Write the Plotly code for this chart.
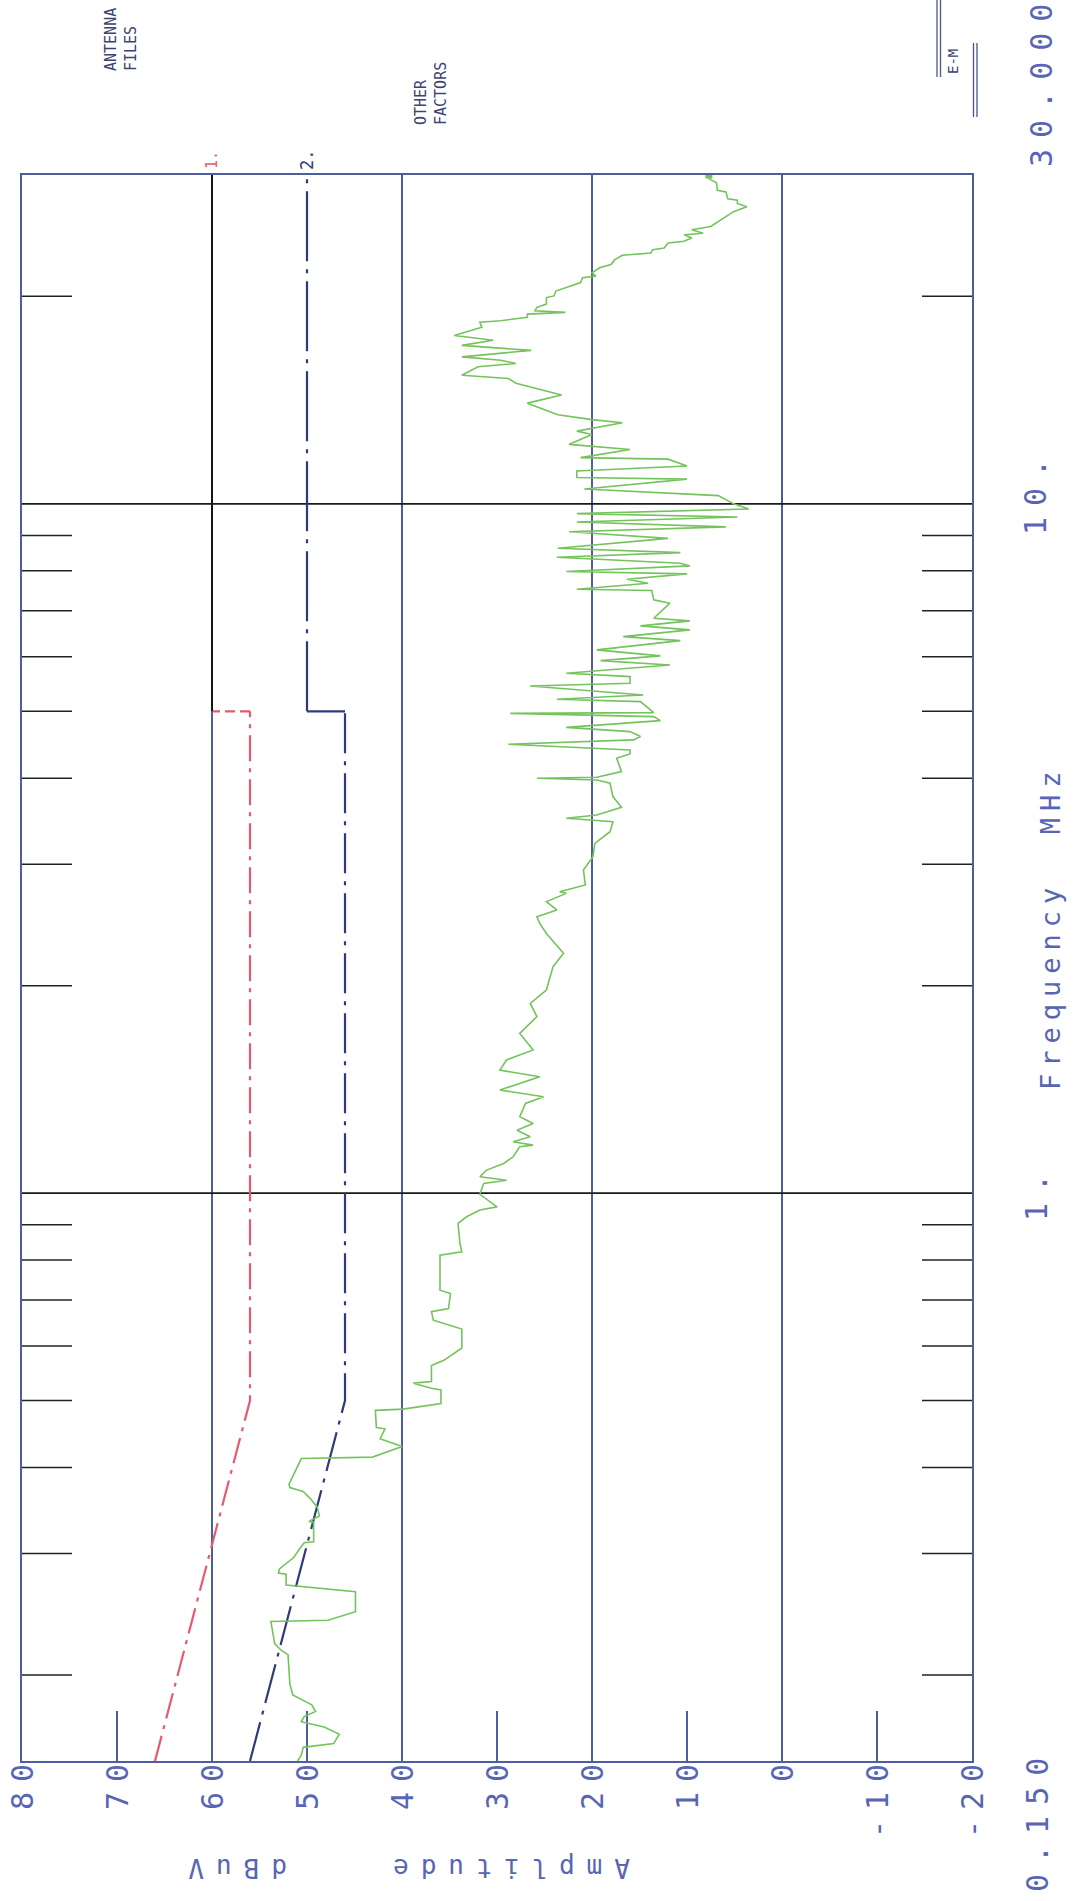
import numpy as np
import plotly.graph_objects as go

# ---------------------------------------------------------------- data ----
# Measured conducted-emission scan: frequency (MHz) and level (dBuV)
freq_mhz = [
    0.150, 0.153, 0.157, 0.159, 0.164, 0.168, 0.171, 0.174, 0.177, 0.181,
    0.187, 0.194, 0.214, 0.217, 0.222, 0.239, 0.240, 0.247, 0.264, 0.270,
    0.280, 0.281, 0.285, 0.296, 0.303, 0.311, 0.312, 0.333, 0.334, 0.340,
    0.350, 0.361, 0.369, 0.374, 0.378, 0.412, 0.414, 0.429, 0.440, 0.455,
    0.457, 0.484, 0.486, 0.495, 0.518, 0.521, 0.530, 0.533, 0.562, 0.572,
    0.596, 0.635, 0.654, 0.673, 0.680, 0.715, 0.723, 0.813, 0.822, 0.845,
    0.904, 0.924, 0.945, 0.955, 0.996, 1.033, 1.044, 1.056, 1.080, 1.104,
    1.129, 1.168, 1.174, 1.187, 1.207, 1.234, 1.262, 1.291, 1.349, 1.380,
    1.411, 1.443, 1.475, 1.508, 1.560, 1.613, 1.705, 1.803, 1.885, 1.971,
    2.131, 2.228, 2.381, 2.462, 2.518, 2.575, 2.648, 2.722, 2.737, 2.799,
    2.943, 3.077, 3.217, 3.345, 3.459, 3.498, 3.537, 3.629, 3.761, 3.932,
    3.976, 3.998, 4.011, 4.088, 4.274, 4.336, 4.395, 4.479, 4.545, 4.596,
    4.673, 4.740, 4.847, 4.912, 4.967, 4.978, 5.165, 5.205, 5.281, 5.443,
    5.492, 5.615, 5.678, 5.838, 5.924, 6.017, 6.139, 6.333, 6.418, 6.564,
    6.652, 6.764, 6.823, 7.176, 7.257, 7.487, 7.520, 7.672, 7.775, 7.915,
    7.976, 8.128, 8.201, 8.367, 8.497, 8.620, 8.910, 9.110, 9.260, 9.410,
    9.570, 9.680, 9.830, 10.00, 10.28, 10.51, 10.86, 10.92, 11.16, 11.35,
    11.61, 11.67, 11.99, 12.20, 12.61, 12.75, 13.11, 13.25, 13.47, 14.00,
    14.39, 14.96, 15.20, 15.37, 15.81, 15.98, 16.16, 16.34, 16.70, 16.98,
    17.27, 17.55, 18.04, 18.34, 18.44, 18.65, 18.85, 18.96, 19.06, 19.28,
    19.49, 19.92, 20.03, 20.36, 20.59, 20.94, 21.28, 21.40, 21.64, 22.00,
    22.24, 22.61, 22.94, 22.99, 23.12, 23.38, 23.51, 23.90, 24.04, 24.30,
    24.57, 24.70, 24.98, 25.26, 25.68, 26.11, 26.54, 26.98, 27.28, 27.58,
    27.70, 28.35, 28.50, 29.24, 29.64, 30.00,
]
level_dbuv = [
    51.0, 50.6, 50.4, 47.2, 46.6, 48.2, 50.6, 50.3, 49.1, 49.5,
    51.5, 51.8, 52.0, 52.7, 53.4, 53.8, 47.8, 44.9, 44.9, 52.2,
    52.2, 53.0, 52.9, 51.4, 50.9, 50.3, 49.3, 49.3, 49.8, 48.7,
    48.9, 49.7, 50.4, 51.8, 51.9, 50.6, 43.1, 40.0, 42.3, 41.8,
    42.7, 42.8, 39.9, 35.9, 35.9, 36.9, 38.8, 36.9, 36.9, 35.6,
    33.7, 33.7, 36.7, 36.9, 35.1, 34.9, 36.0, 36.0, 33.7, 33.9,
    34.1, 33.2, 31.8, 30.0, 31.8, 31.4, 29.0, 31.8, 31.1, 29.3,
    28.3, 27.6, 26.2, 28.3, 26.5, 27.9, 26.2, 27.6, 27.0, 25.1,
    29.7, 27.6, 25.5, 29.7, 29.0, 26.2, 27.6, 25.8, 26.5, 24.8,
    24.1, 23.0, 24.8, 25.5, 25.8, 23.7, 24.8, 22.7, 23.4, 20.7,
    20.9, 19.9, 19.7, 18.1, 17.8, 22.7, 19.5, 16.9, 17.8, 18.1,
    19.5, 25.8, 19.5, 16.9, 17.4, 16.0, 16.0, 28.8, 15.6, 14.9,
    16.0, 22.7, 12.8, 13.5, 28.6, 13.5, 14.9, 23.7, 14.6, 26.5,
    16.0, 16.0, 22.7, 11.8, 19.1, 12.8, 19.5, 10.7, 16.7, 9.7,
    14.9, 9.7, 13.5, 11.8, 13.5, 13.7, 21.6, 14.1, 16.3, 10.0,
    22.7, 9.7, 10.7, 23.7, 10.7, 23.6, 12.0, 22.4, 5.9, 21.6,
    4.7, 21.6, 3.5, 5.1, 6.7, 20.8, 10.0, 21.6, 21.6, 10.0,
    12.0, 21.2, 16.0, 22.4, 20.0, 21.6, 16.8, 20.0, 23.6, 26.8,
    23.2, 28.0, 28.8, 33.7, 32.0, 28.0, 29.6, 33.7, 26.4, 33.7,
    30.4, 34.5, 31.6, 31.8, 29.6, 26.8, 26.8, 22.8, 26.0, 25.8,
    24.8, 24.8, 24.0, 23.8, 22.8, 21.2, 21.0, 19.6, 20.0, 19.2,
    18.0, 17.6, 16.8, 15.6, 13.8, 13.6, 12.4, 12.0, 10.3, 9.5,
    10.3, 8.3, 9.5, 7.5, 6.7, 5.9, 5.1, 3.7, 4.7, 4.7,
    5.7, 5.9, 6.8, 6.9, 7.7, 7.7,
]

# Limit line 1 (quasi-peak) and limit line 2 (average)
limit1_freq = [0.15, 0.5, 5.0]
limit1_level = [66.0, 56.0, 56.0]
limit1_step = [56.0, 60.0]
limit1_high_freq = [5.0, 30.0]
limit1_high_level = [60.0, 60.0]

limit2_freq = [0.15, 0.5, 5.0]
limit2_level = [56.0, 46.0, 46.0]
limit2_step = [46.0, 50.0]
limit2_high_freq = [5.0, 30.0]
limit2_high_level = [50.0, 50.0]

# Axes
amp_range = [80, -20]
freq_range = [0.15, 30.0]
amp_grid = [60, 40, 20, 0]
amp_minor = [70, 50, 30, 10, -10]
amp_tick_vals = [80, 70, 60, 50, 40, 30, 20, 10, 0, -10, -20]
amp_tick_text = ["80", "70", "60", "50", "40", "30", "20", "10", "0", "-10", "-20"]
freq_grid = [1.0, 10.0]
freq_minor = [0.2, 0.3, 0.4, 0.5, 0.6, 0.7, 0.8, 0.9,
              2, 3, 4, 5, 6, 7, 8, 9, 20]

# ------------------------------------------------------------- styling ----
BLUE = "#4e5ca2"
NAVY = "#2f3a78"
RED = "#e55a70"
GREEN = "#74c35c"
TXT = "#5865b4"
MONO = "DejaVu Sans Mono"

# plot frame in page pixels
W, H = 1078, 1901
L, R, T, B = 22, 972, 175, 1761


def px(xpix):
    return (xpix - L) / (R - L)


def py(ypix):
    return (B - ypix) / (B - T)


def spaced(s, gap):
    # widen the pitch between characters without a trailing gap
    if len(s) < 2:
        return s
    return f'<span style="letter-spacing:{gap}px">{s[:-1]}</span>{s[-1]}'


fig = go.Figure()

# vertical amplitude grid
gx, gy = [], []
for a in amp_grid:
    gx += [a, a, None]
    gy += [freq_range[0], freq_range[1], None]
fig.add_trace(go.Scatter(x=gx, y=gy, mode="lines",
                         line=dict(color=BLUE, width=2), hoverinfo="skip"))

# horizontal decade lines
hx, hy = [], []
for f in freq_grid:
    hx += [amp_range[0], amp_range[1], None]
    hy += [f, f, None]
fig.add_trace(go.Scatter(x=hx, y=hy, mode="lines",
                         line=dict(color="#1a1a1a", width=1.6), hoverinfo="skip"))

# minor frequency ticks on both edges (about 50 px long)
tick_db = 50 / ((R - L) / 100.0)
tx, ty = [], []
for f in freq_minor:
    tx += [amp_range[0], amp_range[0] - tick_db, None,
           amp_range[1] + tick_db, amp_range[1], None]
    ty += [f, f, None, f, f, None]
fig.add_trace(go.Scatter(x=tx, y=ty, mode="lines",
                         line=dict(color="#222222", width=1.5), hoverinfo="skip"))

# minor amplitude ticks rising from the bottom edge
dec_per_px = np.log10(freq_range[1] / freq_range[0]) / (B - T)
tick_top = freq_range[0] * 10 ** (50 * dec_per_px)
ax_, ay_ = [], []
for a in amp_minor:
    ax_ += [a, a, None]
    ay_ += [freq_range[0], tick_top, None]
fig.add_trace(go.Scatter(x=ax_, y=ay_, mode="lines",
                         line=dict(color=BLUE, width=2), hoverinfo="skip"))

# limit line 1
fig.add_trace(go.Scatter(x=limit1_level, y=limit1_freq, mode="lines",
                         line=dict(color=RED, width=2.2, dash="26px,7px,4px,7px"),
                         hoverinfo="skip"))
fig.add_trace(go.Scatter(x=limit1_step, y=[limit1_freq[-1]] * 2, mode="lines",
                         line=dict(color=RED, width=2.2, dash="10px,5px"),
                         hoverinfo="skip"))
fig.add_trace(go.Scatter(x=limit1_high_level, y=limit1_high_freq, mode="lines",
                         line=dict(color="#151515", width=2), hoverinfo="skip"))

# limit line 2
fig.add_trace(go.Scatter(x=limit2_level, y=limit2_freq, mode="lines",
                         line=dict(color=NAVY, width=2.2, dash="40px,8px,4px,8px"),
                         hoverinfo="skip"))
fig.add_trace(go.Scatter(x=limit2_step, y=[limit2_freq[-1]] * 2, mode="lines",
                         line=dict(color=NAVY, width=2.2),
                         hoverinfo="skip"))
fig.add_trace(go.Scatter(x=limit2_high_level, y=limit2_high_freq, mode="lines",
                         line=dict(color=NAVY, width=2.2, dash="70px,8px,4px,8px"),
                         hoverinfo="skip"))

# measured trace
fig.add_trace(go.Scatter(x=level_dbuv, y=freq_mhz, mode="lines",
                         line=dict(color=GREEN, width=1.6), hoverinfo="skip"))
fig.add_trace(go.Scatter(x=[level_dbuv[-1]], y=[freq_mhz[-1]], mode="markers",
                         marker=dict(color=GREEN, size=7, symbol="square"),
                         hoverinfo="skip"))

fig.update_xaxes(range=amp_range, showgrid=False, zeroline=False,
                 showticklabels=False, ticks="", showline=True, mirror=True,
                 linecolor=BLUE, linewidth=2)
fig.update_yaxes(type="log", range=[np.log10(freq_range[0]), np.log10(freq_range[1])],
                 showgrid=False, zeroline=False, showticklabels=False, ticks="",
                 showline=True, mirror=True, linecolor=BLUE, linewidth=2)

ann = []


def label(text, xp, yp, size, color, angle=-90, align="center", family=MONO):
    ann.append(dict(x=px(xp), y=py(yp), xref="paper", yref="paper",
                    xanchor="center", yanchor="middle", textangle=angle,
                    align=align, showarrow=False, text=text,
                    font=dict(family=family, size=size, color=color)))


# amplitude tick labels below the frame, reading upward
for v, t in zip(amp_tick_vals, amp_tick_text):
    ann.append(dict(x=v, xref="x", y=0, yref="paper", yanchor="top", xanchor="center",
                    yshift=-1, textangle=-90, showarrow=False,
                    text=spaced(t, 10), font=dict(family=MONO, size=30, color=TXT)))

# axis title for amplitude (upside down)
label(spaced("Amplitude", 12), 512, 1868, 26, TXT, angle=180)
label(spaced("dBuV", 12), 238, 1868, 26, TXT, angle=180)

# frequency labels on the right side
label(spaced("0.150", 11), 1037, 1825, 30, TXT)
label(spaced("1.", 11), 1036, 1198, 30, TXT)
label(spaced("10.", 11), 1036, 497, 30, TXT)
label(spaced("30.000", 11), 1041, 86, 30, TXT)
label(spaced("Frequency  MHz", 7), 1050, 931, 27, TXT)

# limit line numbers above the frame
ann.append(dict(x=limit1_high_level[0], xref="x", y=py(160), yref="paper",
                xanchor="center", yanchor="middle",
                textangle=-90, showarrow=False, text="1.",
                font=dict(family=MONO, size=15, color=RED)))
ann.append(dict(x=limit2_high_level[0], xref="x", y=py(160), yref="paper",
                xanchor="center", yanchor="middle",
                textangle=-90, showarrow=False, text="2.",
                font=dict(family=MONO, size=17, color=NAVY)))

# header notes
label("ANTENNA<br>FILES", 121, 40, 15, "#3c4370", align="left")
label("OTHER<br>FACTORS", 431, 94, 15, "#3c4370", align="left")
label("E-M", 953, 62, 14, "#3c4370")

shapes = []
for xx, y0, y1 in [(937, 0, 77), (940.5, 0, 77), (973.5, 43, 117), (977, 43, 117)]:
    shapes.append(dict(type="line", xref="paper", yref="paper",
                       x0=px(xx), x1=px(xx), y0=py(y0), y1=py(y1),
                       line=dict(color="#4a5590", width=1.3)))

fig.update_layout(width=W, height=H, margin=dict(l=L, r=W - R, t=T, b=H - B),
                  plot_bgcolor="white", paper_bgcolor="white", showlegend=False,
                  annotations=ann, shapes=shapes)

fig.write_html("out.html")
